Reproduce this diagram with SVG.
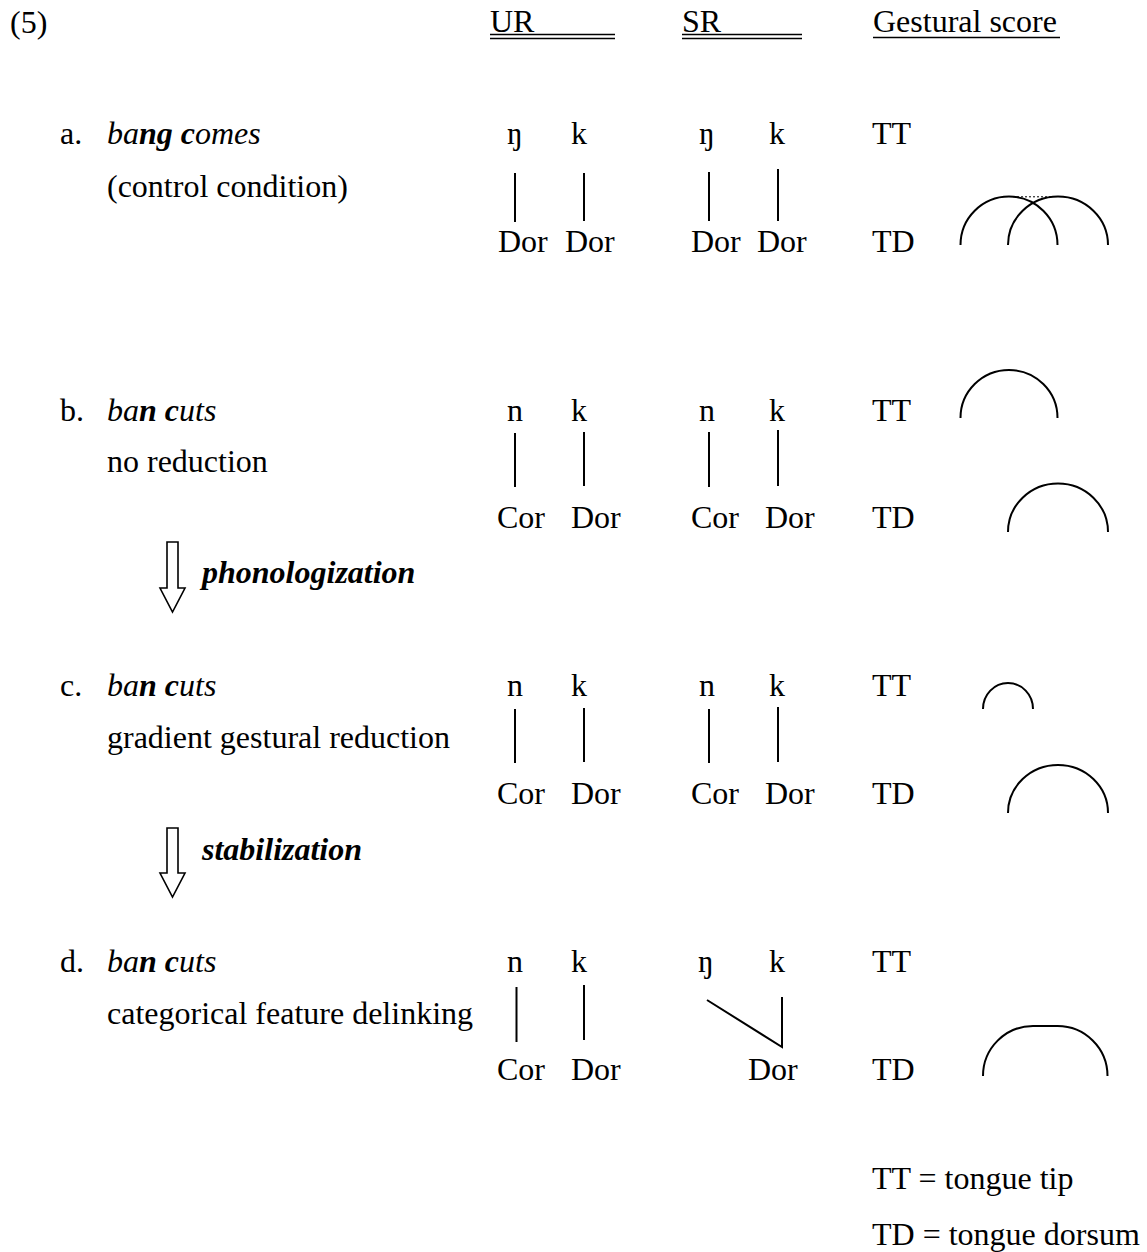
<svg xmlns="http://www.w3.org/2000/svg" width="1147" height="1252" viewBox="0 0 1147 1252">
<style>
text{font-family:"Liberation Serif","Times New Roman",serif;font-size:32px;fill:#000}
.i{font-style:italic}
.bi{font-style:italic;font-weight:bold}
.ln{stroke:#000;stroke-width:2;fill:none}
.arc{stroke:#000;stroke-width:2;fill:none}
.ul{stroke:#000;stroke-width:1.4;fill:none}
.arrow{stroke:#000;stroke-width:1.6;fill:#fff}
</style>
<rect width="1147" height="1252" fill="#fff"/>
<g id="header">
<text x="10" y="33">(5)</text>
<text x="490" y="32">UR</text>
<path class="ul" d="M490,34.5H615M490,38.5H615"/>
<text x="682" y="32">SR</text>
<path class="ul" d="M682,34.5H802M682,38.5H802"/>
<text x="873" y="32">Gestural score</text>
<path class="ul" d="M873,37.5H1060"/>
</g>
<g id="row-a">
<text x="60" y="144">a.</text>
<text x="107" y="144" class="i">ba<tspan class="bi">ng</tspan> <tspan class="bi">c</tspan>omes</text>
<text x="107" y="197">(control condition)</text>
<text x="507" y="144">ŋ</text><text x="571" y="144">k</text>
<text x="699" y="144">ŋ</text><text x="769" y="144">k</text>
<text x="498" y="252">Dor</text><text x="565" y="252">Dor</text>
<text x="691" y="252">Dor</text><text x="757" y="252">Dor</text>
<text x="872" y="144">TT</text><text x="872" y="252">TD</text>
</g>
<g id="row-b">
<text x="60" y="421">b.</text>
<text x="107" y="421" class="i">ba<tspan class="bi">n</tspan> <tspan class="bi">c</tspan>uts</text>
<text x="107" y="472">no reduction</text>
<text x="507" y="421">n</text><text x="571" y="421">k</text>
<text x="699" y="421">n</text><text x="769" y="421">k</text>
<text x="497" y="528">Cor</text><text x="571" y="528">Dor</text>
<text x="691" y="528">Cor</text><text x="765" y="528">Dor</text>
<text x="872" y="421">TT</text><text x="872" y="528">TD</text>
</g>
<g id="row-c">
<text x="60" y="696">c.</text>
<text x="107" y="696" class="i">ba<tspan class="bi">n</tspan> <tspan class="bi">c</tspan>uts</text>
<text x="107" y="748">gradient gestural reduction</text>
<text x="507" y="696">n</text><text x="571" y="696">k</text>
<text x="699" y="696">n</text><text x="769" y="696">k</text>
<text x="497" y="804">Cor</text><text x="571" y="804">Dor</text>
<text x="691" y="804">Cor</text><text x="765" y="804">Dor</text>
<text x="872" y="696">TT</text><text x="872" y="804">TD</text>
</g>
<g id="row-d">
<text x="60" y="972">d.</text>
<text x="107" y="972" class="i">ba<tspan class="bi">n</tspan> <tspan class="bi">c</tspan>uts</text>
<text x="107" y="1024">categorical feature delinking</text>
<text x="507" y="972">n</text><text x="571" y="972">k</text>
<text x="698" y="972">ŋ</text><text x="769" y="972">k</text>
<text x="497" y="1080">Cor</text><text x="571" y="1080">Dor</text>
<text x="748" y="1080">Dor</text>
<text x="872" y="972">TT</text><text x="872" y="1080">TD</text>
</g>
<g id="transitions">
<path class="arrow" d="M167,542H178V588H185L172.5,612L160,588H167Z"/>
<text x="202" y="583" class="bi">phonologization</text>
<path class="arrow" d="M167,828H178V873H185L172.5,897L160,873H167Z"/>
<text x="202" y="860" class="bi">stabilization</text>
</g>
<g id="legend">
<text x="872" y="1189">TT = tongue tip</text>
<text x="872" y="1245">TD = tongue dorsum</text>
</g>
<g id="connectors">
<path class="ln" d="M515,173V222M584,173V221M709,172V221M778,169V221"/>
<path class="ln" d="M515,433V487M584,432V486M709,432V487M778,430V486"/>
<path class="ln" d="M515,709V763M584,708V762M709,709V763M778,707V762"/>
<path class="ln" d="M516.5,987V1042M584,985V1040M707,1000L782,1047V997"/>
</g>
<g id="gestures">
<path class="arc" d="M960.5,245A48.5,48.5 0 0 1 1057.5,245"/>
<path class="arc" d="M1008,245A50,48.5 0 0 1 1108,245"/>
<path d="M1013,196.8H1053" stroke="#000" stroke-width="1" stroke-dasharray="2,2"/>
<path class="arc" d="M960.5,418A48.5,48 0 0 1 1057.5,418"/>
<path class="arc" d="M1008,532A50,48.5 0 0 1 1108,532"/>
<path class="arc" d="M983,709A25,26 0 0 1 1033,709"/>
<path class="arc" d="M1008,813A50,48 0 0 1 1108,813"/>
<path class="arc" d="M983,1076A50,50 0 0 1 1033,1026H1057A50,50 0 0 1 1107.5,1076"/>
</g>
</svg>
